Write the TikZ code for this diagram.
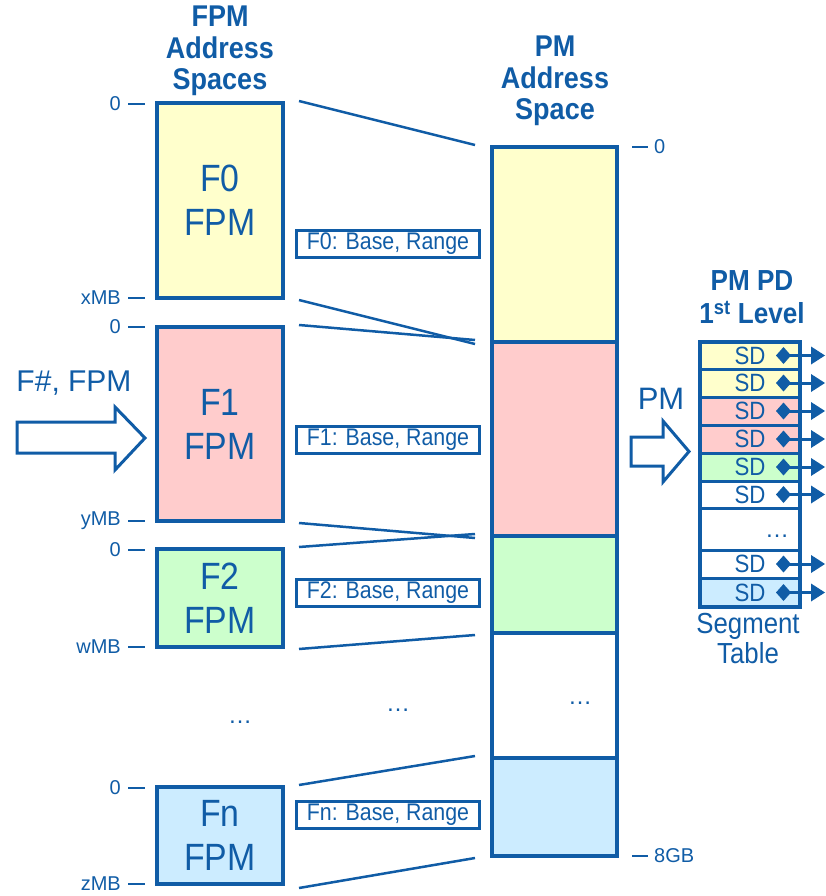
\documentclass[tikz,border=0pt]{standalone}
\usepackage{fontspec}
\setmainfont{Liberation Sans}
\newfontfamily\nf{Liberation Sans}[FakeStretch=0.89]
\newfontfamily\titlefont{Liberation Sans}[FakeStretch=0.9]
\usetikzlibrary{arrows.meta}
\definecolor{bl}{RGB}{16,92,166}
\definecolor{cy}{RGB}{255,255,204}
\definecolor{cp}{RGB}{255,204,204}
\definecolor{cg}{RGB}{204,255,204}
\definecolor{cb}{RGB}{204,236,255}
\tikzset{
 every node/.style={text=bl, inner sep=0pt},
 fpm/.style={draw=bl, line width=4pt, minimum width=126pt, align=center, font=\nf\fontsize{38}{44}\selectfont},
 pmseg/.style={draw=bl, line width=4pt, minimum width=125pt},
 brbox/.style={draw=bl, line width=3pt, minimum width=183pt, minimum height=27pt, font=\nf\fontsize{24}{26}\selectfont},
 conn/.style={draw=bl, line width=2.5pt},
 lbl/.style={font=\fontsize{20}{22}\selectfont},
 tick/.style={draw=bl, line width=2.5pt},
 ttl/.style={align=center, font=\titlefont\bfseries\fontsize{30}{31.5}\selectfont},
 big/.style={draw=bl, line width=3pt, fill=white, line join=miter},
 row/.style={draw=bl, line width=3pt, minimum width=100pt},
 sd/.style={font=\nf\fontsize{25}{26}\selectfont},
 sdarrow/.style={draw=bl, line width=3pt, arrows={Diamond[length=15pt,width=17pt,line width=0pt]-Triangle[length=14pt,width=18pt,line width=0pt]}},
 dots/.style={font=\fontsize{24}{28}\selectfont},
}
\begin{document}
\begin{tikzpicture}[x=1pt,y=-1pt]
\path[use as bounding box] (0,0) rectangle (825,896);

% titles
\node[ttl] (t1) at (220,51) {FPM\\Address\\Spaces};
\node[ttl] (t2) at (555,81) {PM\\Address\\Space};
\node[ttl, font=\titlefont\bfseries\fontsize{29}{33}\selectfont] (t3) at (752,297) {PM PD\\1\textsuperscript{st} Level};

% FPM boxes
\node[fpm, fill=cy, minimum height=195pt] (f0) at (220,200.5) {F0\\FPM};
\node[fpm, fill=cp, minimum height=194pt] (f1) at (220,424) {F1\\FPM};
\node[fpm, fill=cg, minimum height=98pt] (f2) at (220,598) {F2\\FPM};
\node[fpm, fill=cb, minimum height=97pt] (fn) at (220,835.5) {Fn\\FPM};
\node[dots] (d1) at (240,722) {\dots};

% PM address space
\node[pmseg, fill=cy, minimum height=195pt] (p0) at (554.5,244.5) {};
\node[pmseg, fill=cp, minimum height=194pt] (p1) at (554.5,439) {};
\node[pmseg, fill=cg, minimum height=97pt] (p2) at (554.5,584.5) {};
\node[pmseg, fill=white, minimum height=125pt] (p3) at (554.5,695.5) {};
\node[pmseg, fill=cb, minimum height=98pt] (p4) at (554.5,807) {};
\node[dots] (d3) at (580,703) {\dots};
\node[dots] (d2) at (398,710) {\dots};

% connectors
\draw[conn] ([xshift=14pt]f0.north east) -- ([xshift=-15pt]p0.north west);
\draw[conn] ([xshift=14pt]f0.south east) -- ([xshift=-15pt]p0.south west);
\draw[conn] ([xshift=14pt]f1.north east) -- ([xshift=-15pt]p1.north west);
\draw[conn] ([xshift=14pt]f1.south east) -- ([xshift=-15pt]p1.south west);
\draw[conn] ([xshift=14pt]f2.north east) -- ([xshift=-15pt]p2.north west);
\draw[conn] ([xshift=14pt]f2.south east) -- ([xshift=-15pt]p2.south west);
\draw[conn] ([xshift=14pt]fn.north east) -- ([xshift=-15pt]p4.north west);
\draw[conn] ([xshift=14pt,yshift=-2pt]fn.south east) -- ([xshift=-15pt]p4.south west);

% base range boxes
\node[brbox] (b0) at (388,244) {F0: Base, Range};
\node[brbox] (b1) at (388,440) {F1: Base, Range};
\node[brbox] (b2) at (388,593) {F2: Base, Range};
\node[brbox] (bn) at (388,815) {Fn: Base, Range};

% left labels
\foreach \nm/\y/\t in {l1/104/0, l2/298/xMB, l3/327/0, l4/521/yMB, l5/550/0, l6/647/wMB, l7/788/0, l8/884/zMB}{
  \node[lbl, anchor=east] (\nm) at (121,\y) {\t};
  \draw[tick] ([xshift=7pt]\nm.east) -- ([xshift=24pt]\nm.east);
}
% right labels
\node[lbl, anchor=west] (r0) at (654,147) {0};
\draw[tick] ([xshift=-22pt]r0.west) -- ([xshift=-6pt]r0.west);
\node[lbl, anchor=west] (r8) at (654,856) {8GB};
\draw[tick] ([xshift=-22pt]r8.west) -- ([xshift=-6pt]r8.west);

% big arrows
\node[font=\fontsize{30}{34}\selectfont] (fin) at (74,383) {F\#, FPM};
\draw[big] (17,422) -- (115,422) -- (115,407) -- (145,438) -- (115,470) -- (115,453) -- (17,453) -- cycle;
\node[font=\fontsize{31}{34}\selectfont] (pmt) at (661,399) {PM};
\draw[big] (631,437) -- (663,437) -- (663,421) -- (689,451.5) -- (663,482) -- (663,466) -- (631,466) -- cycle;

% segment table
\node[row, fill=cy, minimum height=27pt] (s1) at (750,355.5) {};
\node[row, fill=cy, minimum height=28pt] (s2) at (750,383) {};
\node[row, fill=cp, minimum height=28pt] (s3) at (750,411) {};
\node[row, fill=cp, minimum height=28pt] (s4) at (750,439) {};
\node[row, fill=cg, minimum height=28pt] (s5) at (750,467) {};
\node[row, fill=white, minimum height=27pt] (s6) at (750,494.5) {};
\node[row, fill=white, minimum height=42pt] (s7) at (750,529) {};
\node[row, fill=white, minimum height=28pt] (s8) at (750,564) {};
\node[row, fill=cb, minimum height=29pt] (s9) at (750,592.5) {};
\node[draw=bl, line width=4pt, minimum width=100pt, minimum height=265pt] (tbl) at (750,474.5) {};
\node[dots] (d4) at (777,536) {\dots};
\foreach \s in {s1,s2,s3,s4,s5,s6,s8,s9}{
  \node[sd] at ([xshift=0pt]\s.center) {SD};
  \draw[sdarrow] ([xshift=26pt]\s.center) -- ([xshift=75pt]\s.center);
}
\node[align=center, font=\nf\fontsize{29}{30}\selectfont] (seg) at (748,639) {Segment\\Table};
\end{tikzpicture}
\end{document}
